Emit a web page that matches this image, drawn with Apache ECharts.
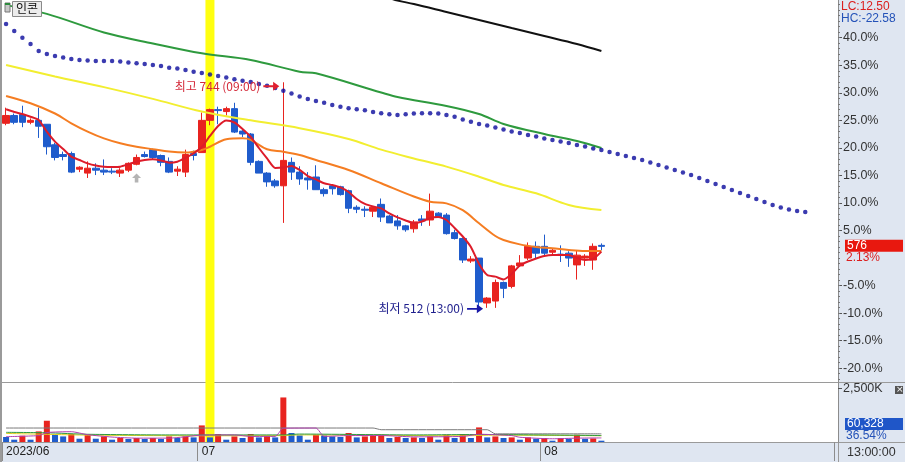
<!DOCTYPE html>
<html><head><meta charset="utf-8">
<script src="https://cdn.jsdelivr.net/npm/echarts@6/dist/echarts.min.js"></script>
<style>html,body{margin:0;padding:0;background:#fff}#c{width:905px;height:462px}</style>
</head><body><div id="c"></div>
<script>
// ---------------- data ----------------
const instrumentName = '인콘';
const basePrice = 564;
const pctMin = -22.5, pctMax = 46.85;
const slotCount = 102;
const dateTickIndex = [0, 24, 66];
const dateTickText = ['2023/06', '07', '08'];
const pctTickValues = [-20, -15, -10, -5, 5, 10, 15, 20, 25, 30, 35, 40];
const volTickValues = [2500000];
const highTime = '09:00', lowTime = '13:00';
const clockText = '13:00:00';
const highlightIndex = 25;
const signalIndex = 16, signalPrice = 646;

const opens = [702,710,711,703,705,701,680,670,671,655, 651,656,654,653,651,654,660,670,675,669, 663,653,652,671,672,705,716,714,717,694, 691,663,651,643,638,662,652,646,647,634, 638,637,633,616,614,612,619,607,602,597, 594,604,603,610,608,590,584,561,564,518, 520,539,535,556,564,576,576,570,568,569, 557,564,562,577];
const highs = [718,712,720,707,718,701,682,673,673,658, 663,661,665,656,656,662,670,673,676,670, 667,658,675,674,713,717,719,719,723,695, 692,664,652,645,744,667,658,652,659,636, 639,638,634,618,617,617,625,608,608,598, 603,608,630,611,610,593,585,566,564,524, 542,540,557,567,580,581,588,574,577,571, 572,568,579,579];
const lows = [700,701,698,701,687,670,664,664,651,652, 646,649,649,650,647,652,659,667,665,658, 651,648,647,664,672,700,701,710,692,688, 659,651,637,636,600,644,639,634,634,627, 629,628,610,610,606,606,601,600,593,591, 590,597,597,605,588,583,559,559,512,513, 513,523,533,555,562,564,567,567,560,555, 542,556,552,572];
const closes = [710,703,703,705,699,678,667,668,652,657, 656,654,652,652,654,661,667,668,667,662, 652,655,670,669,705,716,715,717,693,691, 662,651,642,638,664,652,645,644,634,630, 635,629,615,614,613,616,606,600,597,593, 601,602,612,606,589,584,562,563,519,523, 539,533,556,559,576,569,569,572,567,564, 567,566,576,576];
const volumes = [233000,107000,293000,107000,493000,990000,339000,260000,372000,153000, 339000,153000,260000,107000,186000,140000,186000,140000,186000,140000, 260000,186000,260000,214000,772000,214000,372000,107000,260000,186000, 372000,214000,293000,214000,2074000,419000,307000,107000,339000,307000, 260000,233000,419000,214000,260000,279000,339000,186000,233000,186000, 214000,186000,260000,107000,339000,186000,372000,186000,679000,214000, 260000,186000,214000,107000,214000,153000,186000,60000,186000,153000, 339000,150000,165100,60328];

const ma5 = [716.3,713.6,711.5,708.7,705.4,693.4,683.2,675.7,667.8,664.4, 661.0,658.8,657.6,657.3,657.6,660.0,662.7,664.4,665.1,663.9, 661.7,662.7,666.5,671.3,677.7,689.0,699.2,704.9,702.8,696.2, 688.0,676.7,666.0,656.2,656.7,658.3,654.2,648.0,644.5,640.6, 638.8,636.3,631.7,624.5,619.4,616.8,614.8,609.7,605.6,602.5, 599.9,601.5,605.1,606.1,603.0,594.8,586.1,575.4,558.0,546.7, 545.0,542.1,547.7,556.4,560.5,563.6,566.2,567.2,567.2,567.2, 564.1,562.1,563.1,570.6];
const ma20 = [[0,730],[3,722.5],[6,712],[8,702],[10,693.5],[12,686.5],[14,681.5],[16,678],[18,675.5],[20,673],[22,672],[24,674.7],[25,678],[27,685.6],[29,686.6],[30,685],[32,675.4],[34,672.9],[36,669.5],[38,664.4],[42,654.2],[46,640.6],[50,627],[52,621.7],[54,620],[56,613],[58,599.6],[60,586.6],[61,582.5],[63,578],[65,575.4],[67,574],[69,572.3],[71,571.3],[73,571.3]];
const ma60 = [[0,761.7],[6,750],[12,739],[18,727],[24,714],[30,705],[36,697],[42,686],[46,675],[50,666],[54,657.6],[58,647.3],[61,638.8],[65,630.3],[69,618.4],[73,613.2]];
const ma120 = [[0,823],[5,814],[12,795],[18,783.7],[24,773.6],[30,766.8],[36,754.8],[38,753.2],[46,733.5],[48,728.9],[54,719.7],[58,711.5],[61,701.3],[66,691],[70,683.9],[73,676.7]];
const ma240 = [[46,833],[47,830.2],[48,827.7],[50,824.1],[54,815.9],[58,807.7],[62,799.5],[66,791.4],[70,783.2],[73,776]];
const leadLine = [803.6,796.5,789.6,783.2,776.0,772.9,770.9,769.3,767.8,766.8, 766.3,765.8,765.8,765.8,765.2,764.2,763.4,762.7,761.7,760.6, 758.9,758.1,756.5,754.8,753.5,751.9,750.4,748.9,747.0,745.6, 744.3,742.2,740.5,738.1,735.4,732.5,729.4,726.9,724.8,723.1, 720.7,719.0,717.3,716.3,715.3,713.6,712.2,711.2,710.5,711.2, 712.0,712.2,712.2,712.0,710.5,708.7,705.9,703.6,701.3,699.7, 697.7,695.6,693.6,692.1,690.0,688.5,686.4,684.9,683.4,681.8, 679.8,678.2,676.2,674.7,672.6,670.6,668.5,666.5,664.4,661.9, 659.3,656.7,654.2,651.6,649.1,646.0,642.9,639.9,636.8,633.7, 630.6,627.6,624.5,621.4,618.4,615.8,613.8,612.2,611.2];

const volMaGray = [[0,651000],[45,651000],[46,572000],[59,572000],[60,380000],[73,380000]];
const volMaGreen = [[0,450000],[5,430000],[10,360000],[20,330000],[34,330000],[36,370000],[50,330000],[58,350000],[73,300000]];
const volMaYellow = [[0,400000],[10,320000],[24,290000],[34,300000],[36,330000],[56,290000],[60,320000],[73,290000]];
const volMaPurple = [[0,250000],[4,300000],[5,440000],[8,480000],[10,340000],[13,230000],[16,180000],[20,180000],[24,320000],[28,330000],[30,260000],[33,260000],[34,640000],[38,650000],[39,260000],[42,300000],[46,300000],[50,240000],[56,260000],[58,360000],[62,300000],[63,220000],[67,150000],[70,180000],[73,190000]];

// ---------------- build ----------------
const RED = '#e8231f', BLUE = '#1f5ccc';
const FONT = 'Liberation Sans';
const KFONT = 'Noto Sans CJK KR';
const categories = Array.from({length: slotCount}, (_, i) => 'b' + i);
const priceMin = basePrice * (1 + pctMin / 100);
const priceMax = basePrice * (1 + pctMax / 100);
const volMax = 2747000;
const minorTicks = [];
for (let v = Math.ceil(pctMin); v <= Math.floor(pctMax); v++) minorTicks.push(v);

const candleData = opens.map((o, i) => [o, closes[i], lows[i], highs[i]]);
let hiIdx = 0, loIdx = 0;
highs.forEach((h, i) => { if (h > highs[hiIdx]) hiIdx = i; });
lows.forEach((l, i) => { if (l < lows[loIdx]) loIdx = i; });
const arrowPath = 'path://M0,4L11,4L11,0L18,5L11,10L11,6L0,6Z';

const lineS = (data, color, width, z) => ({
  type: 'line', xAxisIndex: 0, yAxisIndex: 0, data, showSymbol: false, smooth: 0.35,
  lineStyle: {color, width}, z: z || 4, silent: true
});
const volLine = (data, color) => ({
  type: 'line', xAxisIndex: 1, yAxisIndex: 3, data, showSymbol: false, smooth: 0.2,
  lineStyle: {color, width: 1}, z: 5, silent: true
});

const option = {
  animation: false,
  backgroundColor: '#ffffff',
  grid: [
    {left: 2, right: 71.2, top: 0, height: 382},
    {left: 2, right: 71.2, top: 383, height: 59},
    {left: 2, right: 71.2, top: 0, height: 442}
  ],
  xAxis: [
    {type: 'category', gridIndex: 0, data: categories, show: false},
    {type: 'category', gridIndex: 1, data: categories,
      axisLine: {show: false},
      axisTick: {show: true, length: 19, interval: (i) => dateTickIndex.includes(i), lineStyle: {color: '#8c8c8c'}},
      axisLabel: {interval: (i) => dateTickIndex.includes(i),
        formatter: (v, i) => dateTickText[dateTickIndex.indexOf(i)] || '',
        align: 'left', margin: 4, fontFamily: FONT, fontSize: 12, color: '#222'}},
    {type: 'category', gridIndex: 2, data: categories, show: false}
  ],
  yAxis: [
    {type: 'value', gridIndex: 0, min: priceMin, max: priceMax, show: false},
    {type: 'value', gridIndex: 0, position: 'right', offset: 4.2, min: pctMin, max: pctMax,
      splitLine: {show: false},
      axisLine: {show: true, lineStyle: {color: '#8c8c8c'}},
      axisTick: {show: true, customValues: pctTickValues, length: 4, lineStyle: {color: '#555'}},
      axisLabel: {customValues: pctTickValues, formatter: (v) => v.toFixed(1) + '%', margin: 5,
        fontFamily: FONT, fontSize: 12.5, color: '#333'}},
    {type: 'value', gridIndex: 0, position: 'right', offset: 4.2, min: pctMin, max: pctMax,
      splitLine: {show: false}, axisLine: {show: false},
      axisTick: {show: true, customValues: minorTicks, length: 2, lineStyle: {color: '#777'}},
      axisLabel: {show: false}},
    {type: 'value', gridIndex: 1, position: 'right', offset: 4.2, min: 0, max: volMax,
      splitLine: {show: false},
      axisLine: {show: true, lineStyle: {color: '#8c8c8c'}},
      axisTick: {show: true, customValues: volTickValues, length: 4, lineStyle: {color: '#555'}},
      axisLabel: {customValues: volTickValues, formatter: (v) => (v / 1000).toLocaleString('en-US') + 'K',
        margin: 5, fontFamily: FONT, fontSize: 12.5, color: '#333'}},
    {type: 'value', gridIndex: 2, min: 0, max: 1, show: false}
  ],
  series: [
    {type: 'bar', xAxisIndex: 2, yAxisIndex: 4, barWidth: 9, silent: true, z: 1,
      itemStyle: {color: '#ffff10'},
      data: categories.map((_, i) => i === highlightIndex ? 1 : '-')},
    {type: 'candlestick', xAxisIndex: 0, yAxisIndex: 0, barWidth: 7, z: 3,
      itemStyle: {color: RED, color0: BLUE, borderColor: RED, borderColor0: BLUE, borderWidth: 1},
      data: candleData,
      markPoint: {
        z: 10,
        data: [
          {coord: [hiIdx, highs[hiIdx]], symbol: arrowPath, symbolSize: [16, 9], symbolOffset: [-12, 4],
            itemStyle: {color: '#e02030'},
            label: {show: true, position: 'left', distance: 3, formatter: '최고 ' + highs[hiIdx] + ' (' + highTime + ')',
              color: '#d42a3a', fontFamily: KFONT, fontSize: 12}},
          {coord: [loIdx, lows[loIdx]], symbol: arrowPath, symbolSize: [16, 9], symbolOffset: [-4, 0],
            itemStyle: {color: '#1a1aa8'},
            label: {show: true, position: 'left', distance: 3, formatter: '최저 ' + lows[loIdx] + ' (' + lowTime + ')',
              color: '#1e1e8c', fontFamily: KFONT, fontSize: 12}},
          {coord: [signalIndex, signalPrice], symbol: 'path://M5,0L10,5L7,5L7,10L3,10L3,5L0,5Z', symbolSize: [9, 9],
            itemStyle: {color: '#b4b4b4'}, label: {show: false}}
        ]
      }},
    lineS(ma240, '#111111', 2),
    lineS(ma120, '#2e9a3e', 2),
    lineS(ma60, '#f2ee30', 2),
    lineS(ma20, '#f57d22', 2),
    {type: 'line', xAxisIndex: 0, yAxisIndex: 0, data: ma5.map((v, i) => [i, v]), showSymbol: false,
      smooth: 0.2, lineStyle: {color: '#dd1c2a', width: 2}, z: 5, silent: true},
    {type: 'scatter', xAxisIndex: 0, yAxisIndex: 0, data: leadLine.map((v, i) => [i, v]),
      symbol: 'circle', symbolSize: 4.5, itemStyle: {color: '#0a0a9c'}, z: 5, silent: true},
    {type: 'bar', xAxisIndex: 1, yAxisIndex: 3, barWidth: 6, z: 3, silent: true,
      data: volumes.map((v, i) => ({value: v, itemStyle: {color: (i > 0 && v > volumes[i - 1]) ? RED : BLUE}}))},
    volLine(volMaGray, '#7a7a7a'),
    volLine(volMaYellow, '#e0d020'),
    volLine(volMaGreen, '#2f9a3f'),
    volLine(volMaPurple, '#b040b0')
  ]
};

const chart = echarts.init(document.getElementById('c'), null, {renderer: 'canvas'});
chart.setOption(option);

const last = closes[closes.length - 1];
const lastPct = ((last / basePrice - 1) * 100).toFixed(2) + '%';
const lcText = 'LC:' + ((last / lows[loIdx] - 1) * 100).toFixed(2);
const hcText = 'HC:' + ((last / highs[hiIdx] - 1) * 100).toFixed(2);
const lastVol = volumes[volumes.length - 1];
const volRatio = (lastVol / volumes[volumes.length - 2] * 100).toFixed(2) + '%';
const yLast = chart.convertToPixel({yAxisIndex: 0}, last);
const lineC = '#9a9a9a';

chart.setOption({
  graphic: [
    {type: 'rect', z: -5, shape: {x: 838, y: 0, width: 67, height: 462}, style: {fill: '#dfe6f1'}},
    {type: 'rect', z: -5, shape: {x: 0, y: 443, width: 838, height: 19}, style: {fill: '#dfe6f1'}},
    {type: 'rect', z: -4, shape: {x: 0, y: 0, width: 2, height: 462}, style: {fill: '#9a9a9a'}},
    {type: 'line', z: -4, shape: {x1: 0, y1: 382.5, x2: 905, y2: 382.5}, style: {stroke: lineC, lineWidth: 1}},
    {type: 'line', z: -4, shape: {x1: 0, y1: 442.5, x2: 905, y2: 442.5}, style: {stroke: lineC, lineWidth: 1}},
    {type: 'line', z: -4, shape: {x1: 838.5, y1: 0, x2: 838.5, y2: 462}, style: {stroke: lineC, lineWidth: 1}},
    {type: 'text', z: 20, x: 841, y: 1, style: {text: lcText, fill: '#dc1e1e', font: '12px "Liberation Sans"'}},
    {type: 'text', z: 20, x: 841, y: 13, style: {text: hcText, fill: '#2452b8', font: '12px "Liberation Sans"'}},
    {type: 'rect', z: 20, shape: {x: 845, y: yLast - 6.5, width: 58, height: 12}, style: {fill: '#e8180f'}},
    {type: 'text', z: 21, x: 847, y: yLast - 6.5, style: {text: String(last), fill: '#ffffff', font: '12px "Liberation Sans"'}},
    {type: 'text', z: 21, x: 846, y: yLast + 5.5, style: {text: lastPct, fill: '#dc1e1e', font: '12px "Liberation Sans"'}},
    {type: 'rect', z: 20, shape: {x: 845, y: 418, width: 58, height: 12}, style: {fill: '#1f56c8'}},
    {type: 'text', z: 21, x: 847, y: 418, style: {text: lastVol.toLocaleString('en-US'), fill: '#ffffff', font: '12px "Liberation Sans"'}},
    {type: 'text', z: 21, x: 846, y: 429.5, style: {text: volRatio, fill: '#2452b8', font: '12px "Liberation Sans"'}},
    {type: 'text', z: 21, x: 847, y: 446, style: {text: clockText, fill: '#333', font: '12.5px "Liberation Sans"'}},
    {type: 'rect', z: 21, shape: {x: 895, y: 386, width: 8, height: 8}, style: {fill: '#555'}},
    {type: 'text', z: 22, x: 896, y: 385, style: {text: '×', fill: '#fff', font: '9px "DejaVu Sans"'}},
    {type: 'rect', z: 21, shape: {x: 5, y: 3, width: 5, height: 9}, style: {fill: '#c8c8c8', stroke: '#777', lineWidth: 1}},
    {type: 'rect', z: 21, shape: {x: 5, y: 3, width: 5, height: 2}, style: {fill: '#2e8a3e'}},
    {type: 'rect', z: 21, shape: {x: 12.5, y: 1.5, width: 29, height: 15}, style: {fill: '#ececec', stroke: '#8a8a8a', lineWidth: 1}},
    {type: 'text', z: 22, x: 16, y: 2, style: {text: instrumentName, fill: '#111', font: '12px "Noto Sans CJK KR"'}}
  ]
});
</script>
</body></html>
